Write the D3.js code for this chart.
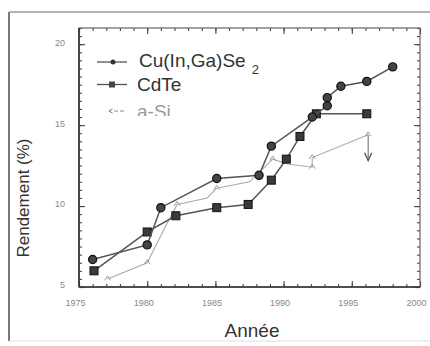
<!DOCTYPE html>
<html>
<head>
<meta charset="utf-8">
<script src="https://cdn.jsdelivr.net/npm/d3@7"></script>
<style>
  body { margin: 0; background: #fff; }
  svg { display: block; font-family: Arial, "Liberation Sans", sans-serif; }
</style>
</head>
<body>
<div id="chart"></div>
<script>
// data
const cigsYears  = [1976.0, 1980.0, 1981.0, 1985.1, 1988.2, 1989.1, 1992.1, 1993.2, 1993.2, 1994.2, 1996.1, 1998.0];
const cigsValues = [6.7, 7.6, 9.9, 11.7, 11.9, 13.7, 15.5, 16.2, 16.7, 17.4, 17.7, 18.6];
const cdteYears  = [1976.1, 1980.0, 1982.1, 1985.1, 1987.4, 1989.1, 1990.2, 1991.2, 1992.4, 1996.1];
const cdteValues = [6.0, 8.4, 9.4, 9.9, 10.1, 11.6, 12.9, 14.3, 15.7, 15.7];
const asiYears   = [1977.1, 1980.0, 1981.5, 1982.2, 1984.4, 1985.1, 1987.5, 1989.2, 1990.3, 1992.1, 1992.1, 1996.2];
const asiValues  = [5.5, 6.5, 9.0, 10.1, 10.5, 11.1, 11.5, 12.9, 12.6, 12.4, 13.0, 14.4];
const asiMarks   = [0, 1, 3, 5, 7, 9, 10, 11];   // indexes that carry a chevron
const asiStable  = [1996.2, 14.4, 12.8];         // year, initial, stabilised
const xTicks = [1975, 1980, 1985, 1990, 1995, 2000];
const yTicks = [5, 10, 15, 20];

const width = 430, height = 346;
const svg = d3.select("#chart").append("svg").attr("width", width).attr("height", height);

// outer frame of the scan
svg.append("line").attr("x1", 9).attr("y1", 12).attr("x2", 9).attr("y2", 341).attr("stroke", "#777").attr("stroke-width", 2);
svg.append("line").attr("x1", 9).attr("y1", 12).attr("x2", 430).attr("y2", 12).attr("stroke", "#999").attr("stroke-width", 1.5);
svg.append("line").attr("x1", 9).attr("y1", 341).attr("x2", 430).attr("y2", 341).attr("stroke", "#ddd").attr("stroke-width", 1);

// scales
const x = d3.scaleLinear().domain([1975, 2000]).range([79, 420]);
const y = d3.scaleLinear().domain([5, 21]).range([287, 28]);

const axisColor = "#444";
function styleAxis(g) {
  g.select(".domain").remove();
  g.selectAll("line").attr("stroke", axisColor).attr("stroke-width", 1.1);
  g.selectAll("text").attr("fill", "#888").style("font-size", "9px");
}

// minor ticks
svg.append("g").attr("transform", "translate(0,287)")
   .call(d3.axisBottom(x).tickValues(d3.range(1975, 2001)).tickSize(-3).tickFormat("")).call(styleAxis);
svg.append("g").attr("transform", "translate(0,28)")
   .call(d3.axisTop(x).tickValues(d3.range(1975, 2001)).tickSize(-3).tickFormat("")).call(styleAxis);
svg.append("g").attr("transform", "translate(79,0)")
   .call(d3.axisLeft(y).tickValues(d3.range(5, 21.01, 0.5)).tickSize(-3).tickFormat("")).call(styleAxis);
svg.append("g").attr("transform", "translate(420,0)")
   .call(d3.axisRight(y).tickValues(d3.range(5, 21.01, 0.5)).tickSize(-3).tickFormat("")).call(styleAxis);

// major ticks + labels
svg.append("g").attr("transform", "translate(0,287)")
   .call(d3.axisBottom(x).tickValues(xTicks).tickSize(-6).tickPadding(13).tickFormat(d3.format("d"))).call(styleAxis)
   .selectAll("text").attr("dx", "-4");
svg.append("g").attr("transform", "translate(0,28)")
   .call(d3.axisTop(x).tickValues(xTicks).tickSize(-6).tickFormat("")).call(styleAxis);
svg.append("g").attr("transform", "translate(79,0)")
   .call(d3.axisLeft(y).tickValues(yTicks).tickSize(-6).tickPadding(14)).call(styleAxis)
   .selectAll("text").attr("dy", "0.1em");
svg.append("g").attr("transform", "translate(420,0)")
   .call(d3.axisRight(y).tickValues(yTicks).tickSize(-6).tickFormat("")).call(styleAxis);

// plot frame
svg.append("rect").attr("x", 79).attr("y", 28).attr("width", 341).attr("height", 259)
   .attr("fill", "none").attr("stroke", "#666").attr("stroke-width", 1.2);
svg.append("line").attr("x1", 79).attr("y1", 28).attr("x2", 79).attr("y2", 287).attr("stroke", "#333").attr("stroke-width", 1.6);
svg.append("line").attr("x1", 79).attr("y1", 287).attr("x2", 420).attr("y2", 287).attr("stroke", "#333").attr("stroke-width", 1.6);

// axis titles
svg.append("text").attr("x", 252).attr("y", 337).attr("text-anchor", "middle")
   .style("font-size", "19px").attr("fill", "#333").text("Année");
svg.append("text").attr("transform", "translate(29,198) rotate(-90)").attr("text-anchor", "middle")
   .style("font-size", "17px").attr("fill", "#333").text("Rendement (%)");

const line = d3.line().x(d => x(d[0])).y(d => y(d[1]));
const cigs = cigsYears.map((d, i) => [d, cigsValues[i]]);
const cdte = cdteYears.map((d, i) => [d, cdteValues[i]]);
const asi  = asiYears.map((d, i) => [d, asiValues[i]]);

// a-Si (thin light grey)
svg.append("path").datum(asi).attr("d", line).attr("fill", "none").attr("stroke", "#aaa").attr("stroke-width", 1.1);
const chevron = "M-3,2.5L0,-2L3,2.5";
svg.selectAll(".asi").data(asiMarks.map(i => asi[i])).join("path").attr("class", "asi")
   .attr("transform", d => `translate(${x(d[0])},${y(d[1]) - 1})`).attr("d", chevron)
   .attr("fill", "none").attr("stroke", "#999").attr("stroke-width", 1);
// stabilised efficiency arrow
svg.append("line").attr("x1", x(asiStable[0])).attr("x2", x(asiStable[0]))
   .attr("y1", y(asiStable[1])).attr("y2", y(asiStable[2])).attr("stroke", "#666").attr("stroke-width", 1);
svg.append("path").attr("transform", `translate(${x(asiStable[0])},${y(asiStable[2])})`)
   .attr("d", "M-3.5,-8L0,0L3.5,-8").attr("fill", "none").attr("stroke", "#555").attr("stroke-width", 1.3);

// CdTe
svg.append("path").datum(cdte).attr("d", line).attr("fill", "none").attr("stroke", "#555").attr("stroke-width", 1.5);
svg.selectAll(".cdte").data(cdte).join("rect").attr("class", "cdte")
   .attr("x", d => x(d[0]) - 4).attr("y", d => y(d[1]) - 4).attr("width", 8).attr("height", 8)
   .attr("fill", "#3a3a3a").attr("stroke", "#111").attr("stroke-width", 1);

// Cu(In,Ga)Se2
svg.append("path").datum(cigs).attr("d", line).attr("fill", "none").attr("stroke", "#555").attr("stroke-width", 1.5);
svg.selectAll(".cigs").data(cigs).join("circle").attr("class", "cigs")
   .attr("cx", d => x(d[0])).attr("cy", d => y(d[1])).attr("r", 4.1)
   .attr("fill", "#444").attr("stroke", "#111").attr("stroke-width", 1.2);

// legend
const lg = svg.append("g");
lg.append("line").attr("x1", 97).attr("x2", 127).attr("y1", 62).attr("y2", 62).attr("stroke", "#555").attr("stroke-width", 1.3);
lg.append("circle").attr("cx", 113).attr("cy", 62).attr("r", 2.5).attr("fill", "#333");
const t1 = lg.append("text").attr("x", 139).attr("y", 66.5).style("font-size", "19px").attr("fill", "#333").text("Cu(In,Ga)Se");
t1.append("tspan").attr("dx", 6).attr("dy", 7).style("font-size", "13px").text("2");

lg.append("line").attr("x1", 97).attr("x2", 127).attr("y1", 84.5).attr("y2", 84.5).attr("stroke", "#555").attr("stroke-width", 1.3);
lg.append("rect").attr("x", 109).attr("y", 81.5).attr("width", 6).attr("height", 6).attr("fill", "#444");
lg.append("text").attr("x", 137).attr("y", 91).style("font-size", "19px").attr("fill", "#333").text("CdTe");

lg.append("path").attr("transform", "translate(110,111)").attr("d", "M2.5,-2L-1,0L2.5,2").attr("fill", "none").attr("stroke", "#777");
lg.append("line").attr("x1", 114).attr("x2", 126).attr("y1", 111).attr("y2", 111)
   .attr("stroke", "#888").attr("stroke-dasharray", "4,2");
svg.append("clipPath").attr("id", "cut").append("rect").attr("x", 130).attr("y", 95).attr("width", 60).attr("height", 21);
lg.append("text").attr("x", 137).attr("y", 118).attr("clip-path", "url(#cut)")
   .style("font-size", "19px").attr("fill", "#999").text("a-Si");
</script>
</body>
</html>
